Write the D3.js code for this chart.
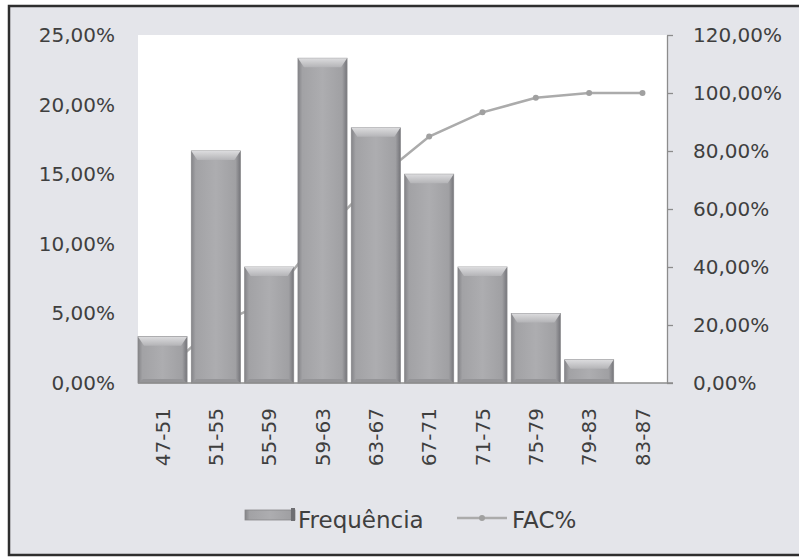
<!DOCTYPE html>
<html>
<head>
<meta charset="utf-8">
<script src="https://cdn.jsdelivr.net/npm/d3@7"></script>
<style>
  html, body { margin: 0; padding: 0; background: #ffffff; }
  svg { display: block; }
  text { font-family: "DejaVu Sans", sans-serif; fill: #3f3f3f; }
</style>
</head>
<body>
<svg id="chart" width="799" height="557"></svg>
<script>
// ---- data ----
const categories = ["47-51","51-55","55-59","59-63","63-67","67-71","71-75","75-79","79-83","83-87"];
const frequencia = [0.0333, 0.1667, 0.0833, 0.2333, 0.1833, 0.15, 0.0833, 0.05, 0.0167, 0];
const facPct = [0.0333, 0.20, 0.2833, 0.5167, 0.70, 0.85, 0.9333, 0.9833, 1.0, 1.0];
const leftTicks = [0, 0.05, 0.10, 0.15, 0.20, 0.25];
const rightTicks = [0, 0.2, 0.4, 0.6, 0.8, 1.0, 1.2];
const seriesNames = ["Frequência", "FAC%"];

const svg = d3.select("#chart");
const W = 799, H = 557;
const plot = { left: 138, right: 667, top: 35, bottom: 383 };

const fmt = v => (v * 100).toFixed(2).replace(".", ",") + "%";

// defs
const defs = svg.append("defs");
const g1 = defs.append("linearGradient").attr("id", "barGrad").attr("x1", "0").attr("x2", "1").attr("y1", "0").attr("y2", "0");
[["0%", "#848488"], ["9%", "#a2a2a5"], ["50%", "#adadb0"], ["90%", "#a0a0a3"], ["100%", "#75757a"]]
  .forEach(([o, c]) => g1.append("stop").attr("offset", o).attr("stop-color", c));
const g2 = defs.append("linearGradient").attr("id", "bevelGrad").attr("x1", "0").attr("x2", "0").attr("y1", "0").attr("y2", "1");
[["0%", "#dcdcde"], ["100%", "#b4b4b7"]]
  .forEach(([o, c]) => g2.append("stop").attr("offset", o).attr("stop-color", c));

// outer background with frame
svg.append("rect").attr("x", 9).attr("y", 6).attr("width", W + 10).attr("height", 549)
  .attr("fill", "#e4e5ea").attr("stroke", "#2e2e2e").attr("stroke-width", 2.5);

// plot area
svg.append("rect").attr("x", plot.left).attr("y", plot.top)
  .attr("width", plot.right - plot.left).attr("height", plot.bottom - plot.top).attr("fill", "#ffffff");

// scales
const x = d3.scaleBand().domain(categories).range([plot.left, plot.right]).paddingInner(0.08).paddingOuter(0);
const yL = d3.scaleLinear().domain([0, 0.25]).range([plot.bottom, plot.top]);
const yR = d3.scaleLinear().domain([0, 1.2]).range([plot.bottom, plot.top]);

// left axis (labels only)
const axL = d3.axisLeft(yL).tickValues(leftTicks).tickFormat(fmt).tickSize(0).tickPadding(23);
const gL = svg.append("g").attr("transform", `translate(${plot.left},0)`).call(axL);
gL.select(".domain").remove();
gL.selectAll("text").attr("font-size", 20).attr("font-family", "DejaVu Sans").attr("fill", "#3f3f3f");

// right axis
const axR = d3.axisRight(yR).tickValues(rightTicks).tickFormat(fmt).tickSize(6).tickSizeOuter(0).tickPadding(20);
const gR = svg.append("g").attr("transform", `translate(${plot.right},0)`).call(axR);
gR.select(".domain").attr("stroke", "#8c8c8c").attr("stroke-width", 1.3);
gR.selectAll(".tick line").attr("stroke", "#8c8c8c").attr("stroke-width", 1.3);
gR.selectAll("text").attr("font-size", 20).attr("font-family", "DejaVu Sans").attr("fill", "#3f3f3f");

// cumulative line (behind bars)
const cx = i => x(categories[i]) + x.bandwidth() / 2;
const line = d3.line().x((d, i) => cx(i)).y(d => yR(d));
svg.append("path").datum(facPct).attr("d", line)
  .attr("fill", "none").attr("stroke", "#ababab").attr("stroke-width", 2.5);
svg.append("g").selectAll("circle").data(facPct).join("circle")
  .attr("cx", (d, i) => cx(i)).attr("cy", d => yR(d)).attr("r", 3).attr("fill", "#a0a0a0");

// bars
const barG = svg.append("g");
frequencia.forEach((v, i) => {
  if (v <= 0) return;
  const bx = x(categories[i]), bw = x.bandwidth(), by = yL(v), bh = yL(0) - yL(v);
  const g = barG.append("g");
  g.append("rect").attr("x", bx).attr("y", by).attr("width", bw).attr("height", bh)
    .attr("fill", "url(#barGrad)").attr("stroke", "#88888b").attr("stroke-width", 0.8);
  const bv = Math.min(9, bh / 2);
  g.append("path")
    .attr("d", `M${bx},${by} L${bx + bw},${by} L${bx + bw - 6},${by + bv} L${bx + 6},${by + bv} Z`)
    .attr("fill", "url(#bevelGrad)");
  g.append("path")
    .attr("d", `M${bx},${by + bh} L${bx + bw},${by + bh} L${bx + bw - 5},${by + bh - 4} L${bx + 5},${by + bh - 4} Z`)
    .attr("fill", "#959598");
});

// bottom axis line
svg.append("line").attr("x1", plot.left).attr("x2", plot.right + 6)
  .attr("y1", plot.bottom).attr("y2", plot.bottom)
  .attr("stroke", "#8c8c8c").attr("stroke-width", 1.3);

// category labels (rotated)
svg.append("g").selectAll("text").data(categories).join("text")
  .attr("transform", d => `translate(${x(d) + x.bandwidth() / 2},${plot.bottom + 25}) rotate(-90)`)
  .attr("text-anchor", "end").attr("dy", "0.36em")
  .attr("font-size", 20).text(d => d);

// legend
const leg = svg.append("g");
leg.append("rect").attr("x", 245).attr("y", 510).attr("width", 50).attr("height", 10)
  .attr("fill", "url(#barGrad)").attr("stroke", "#88888b").attr("stroke-width", 0.8);
leg.append("rect").attr("x", 291).attr("y", 508).attr("width", 4).attr("height", 13).attr("fill", "#6e6e72");
leg.append("text").attr("x", 298).attr("y", 528).attr("font-size", 23).text(seriesNames[0]);
leg.append("line").attr("x1", 457).attr("x2", 507).attr("y1", 518).attr("y2", 518)
  .attr("stroke", "#ababab").attr("stroke-width", 2.5);
leg.append("circle").attr("cx", 482).attr("cy", 518).attr("r", 3).attr("fill", "#a0a0a0");
leg.append("text").attr("x", 512).attr("y", 528).attr("font-size", 23).text(seriesNames[1]);
</script>
</body>
</html>
